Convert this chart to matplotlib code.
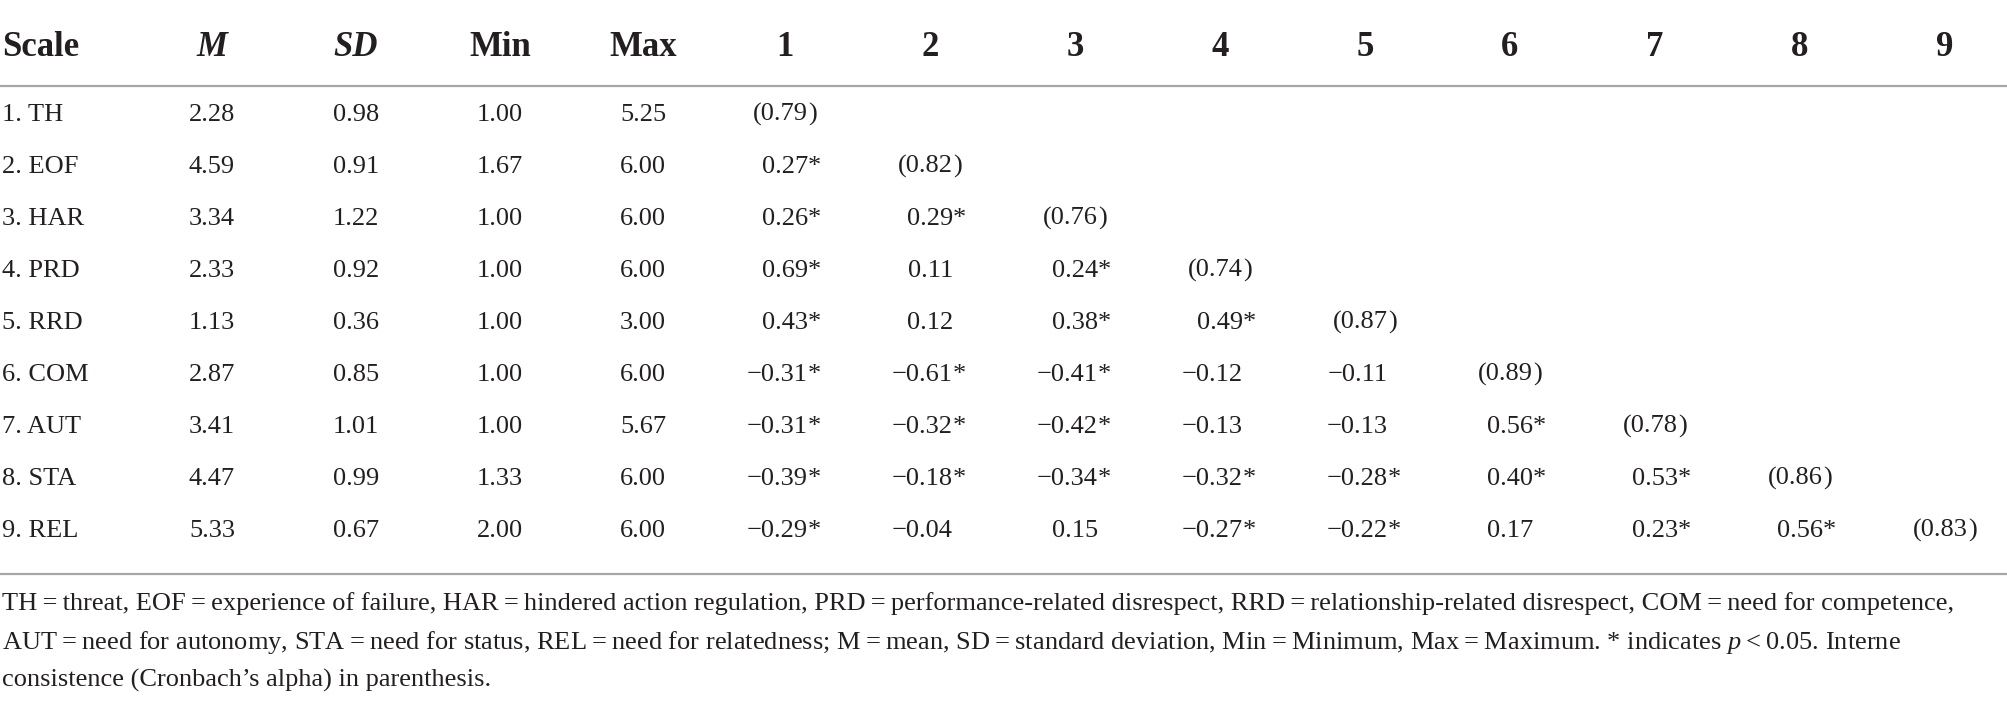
import matplotlib
matplotlib.use("Agg")
import matplotlib.pyplot as plt
import numpy as np

# table content
scales = ["1. TH", "2. EOF", "3. HAR", "4. PRD", "5. RRD", "6. COM", "7. AUT", "8. STA", "9. REL"]
means = [2.28, 4.59, 3.34, 2.33, 1.13, 2.87, 3.41, 4.47, 5.33]
sds = [0.98, 0.91, 1.22, 0.92, 0.36, 0.85, 1.01, 0.99, 0.67]
mins = [1.00, 1.67, 1.00, 1.00, 1.00, 1.00, 1.00, 1.33, 2.00]
maxs = [5.25, 6.00, 6.00, 6.00, 3.00, 6.00, 5.67, 6.00, 6.00]
alphas = [0.79, 0.82, 0.76, 0.74, 0.87, 0.89, 0.78, 0.86, 0.83]
# lower triangle correlations, row i has i values
corr = [
    [],
    [0.27],
    [0.26, 0.29],
    [0.69, 0.11, 0.24],
    [0.43, 0.12, 0.38, 0.49],
    [-0.31, -0.61, -0.41, -0.12, -0.11],
    [-0.31, -0.32, -0.42, -0.13, -0.13, 0.56],
    [-0.39, -0.18, -0.34, -0.32, -0.28, 0.40, 0.53],
    [-0.29, -0.04, 0.15, -0.27, -0.22, 0.17, 0.23, 0.56],
]
signif = [
    [],
    [1],
    [1, 1],
    [1, 0, 1],
    [1, 0, 1, 1],
    [1, 1, 1, 0, 0],
    [1, 1, 1, 0, 0, 1],
    [1, 1, 1, 1, 1, 1, 1],
    [1, 0, 0, 1, 1, 0, 1, 1],
]
headers = ["Scale", "M", "SD", "Min", "Max"] + [str(k) for k in range(1, 10)]

footnote = [
    "TH\u2009=\u2009threat, EOF\u2009=\u2009experience of failure, HAR\u2009=\u2009hindered action regulation, "
    "PRD\u2009=\u2009performance-related disrespect, RRD\u2009=\u2009relationship-related disrespect, COM\u2009=\u2009need for competence,",
    "AUT\u2009=\u2009need for autonomy, STA\u2009=\u2009need for status, REL\u2009=\u2009need for relatedness; M\u2009=\u2009mean, "
    "SD\u2009=\u2009standard deviation, Min\u2009=\u2009Minimum, Max\u2009=\u2009Maximum. * indicates $p$\u2009<\u20090.05. Interne",
    "consistence (Cronbach\u2019s alpha) in parenthesis.",
]

plt.rcParams['font.family'] = ['Liberation Serif', 'DejaVu Serif']
plt.rcParams['mathtext.fontset'] = 'custom'
plt.rcParams['mathtext.it'] = 'Liberation Serif:italic'
plt.rcParams['mathtext.rm'] = 'Liberation Serif'

W, H = 2008, 705
fig = plt.figure(figsize=(W / 100, H / 100), dpi=100)
ax = fig.add_axes([0, 0, 1, 1])
ax.set_xlim(0, W)
ax.set_ylim(H, 0)
ax.axis("off")

ink = "#231f20"
body_fs = 19
head_fs = 25

stat_x = [212, 356, 500, 643]
corr_x = [808 + 145 * k for k in range(9)]   # right edge of the digits
head_y = 56
row_y0, row_dy = 121, 52

# header
ax.text(2, head_y, headers[0], ha="left", va="baseline", fontsize=head_fs, fontweight="bold", color=ink)
for j, h in enumerate(headers[1:5]):
    style = "italic" if h in ("M", "SD") else "normal"
    ax.text(stat_x[j], head_y, h, ha="center", va="baseline", fontsize=head_fs,
            fontweight="bold", fontstyle=style, color=ink)
for k, h in enumerate(headers[5:]):
    ax.text(corr_x[k] - 23, head_y, h, ha="center", va="baseline", fontsize=head_fs,
            fontweight="bold", color=ink)

ax.plot([0, W], [86, 86], color="#a6a6a6", lw=1.6, solid_capstyle="butt")
ax.plot([0, W], [574, 574], color="#a6a6a6", lw=1.6, solid_capstyle="butt")


def fmt(v):
    s = "%.2f" % abs(v)
    return ("\u2212" + s) if v < 0 else s


for i, name in enumerate(scales):
    y = row_y0 + row_dy * i
    ax.text(2, y, name, ha="left", va="baseline", fontsize=body_fs, color=ink)
    for j, v in enumerate([means[i], sds[i], mins[i], maxs[i]]):
        ax.text(stat_x[j], y, "%.2f" % v, ha="center", va="baseline", fontsize=body_fs, color=ink)
    for k, v in enumerate(corr[i]):
        ax.text(corr_x[k], y, fmt(v), ha="right", va="baseline", fontsize=body_fs, color=ink)
        if signif[i][k]:
            ax.text(corr_x[k], y, "*", ha="left", va="baseline", fontsize=body_fs, color=ink)
    ax.text(corr_x[i], y, "(%.2f" % alphas[i], ha="right", va="baseline", fontsize=body_fs, color=ink)
    ax.text(corr_x[i], y, ")", ha="left", va="baseline", fontsize=body_fs, color=ink)

for n, line in enumerate(footnote):
    ax.text(2, 610 + 38.5 * n, line, ha="left", va="baseline", fontsize=body_fs, color=ink)

fig.savefig("out.png", dpi=100)
